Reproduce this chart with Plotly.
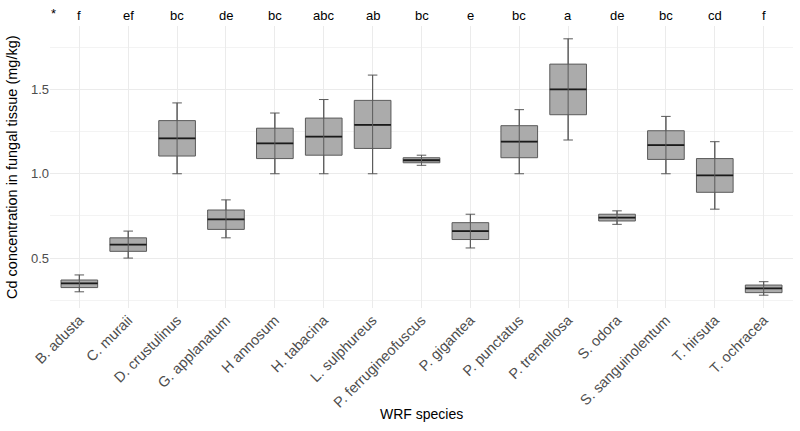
import plotly.graph_objects as go

species = ["B. adusta", "C. muraii", "D. crustulinus", "G. applanatum", "H annosum",
           "H. tabacina", "L. sulphureus", "P. ferrugineofuscus", "P. gigantea",
           "P. punctatus", "P. tremellosa", "S. odora", "S. sanguinolentum",
           "T. hirsuta", "T. ochracea"]
lower = [0.30, 0.50, 1.00, 0.62, 1.00, 1.00, 1.00, 1.05, 0.56, 1.00, 1.20, 0.70, 1.00, 0.79, 0.28]
q1 =    [0.325, 0.54, 1.105, 0.67, 1.09, 1.11, 1.15, 1.065, 0.61, 1.095, 1.35, 0.72, 1.085, 0.89, 0.295]
median = [0.35, 0.58, 1.21, 0.73, 1.18, 1.22, 1.29, 1.08, 0.66, 1.19, 1.50, 0.74, 1.17, 0.99, 0.32]
q3 =    [0.37, 0.62, 1.315, 0.785, 1.27, 1.33, 1.435, 1.095, 0.71, 1.285, 1.65, 0.76, 1.255, 1.09, 0.34]
upper = [0.40, 0.66, 1.42, 0.845, 1.36, 1.44, 1.585, 1.11, 0.76, 1.38, 1.80, 0.78, 1.34, 1.19, 0.36]
letters = ["f", "ef", "bc", "de", "bc", "abc", "ab", "bc", "e", "bc", "a", "de", "bc", "cd", "f"]

fig = go.Figure()
fig.add_trace(go.Box(
    x=species, q1=q1, median=median, q3=q3, lowerfence=lower, upperfence=upper,
    fillcolor="#ababab", line=dict(color="#5a5a5a", width=1),
    width=0.75, whiskerwidth=0.26, boxpoints=False, showlegend=False, hoverinfo="skip"))
# median line emphasised
fig.add_trace(go.Box(
    x=species, q1=median, median=median, q3=median, lowerfence=median, upperfence=median,
    fillcolor="rgba(0,0,0,0)", line=dict(color="#1a1a1a", width=1.8),
    width=0.75, whiskerwidth=0, boxpoints=False, showlegend=False, hoverinfo="skip"))
# whisker line through the box
wx, wy = [], []
for s, lo, hi in zip(species, lower, upper):
    wx += [s, s, None]
    wy += [lo, hi, None]
fig.add_trace(go.Scatter(x=wx, y=wy, mode="lines", line=dict(color="#5a5a5a", width=1),
                         showlegend=False, hoverinfo="skip"))

for s, l in zip(species, letters):
    fig.add_annotation(x=s, y=1, xref="x", yref="paper", text=l, showarrow=False,
                       yanchor="middle", yshift=11, font=dict(size=13, color="black"))
fig.add_annotation(x=0, y=1, xref="paper", yref="paper", text="*", showarrow=False,
                   yanchor="middle", yshift=13, xshift=-1, font=dict(size=13, color="black"))

# axis titles
fig.add_annotation(x=0.5, y=0, xref="paper", yref="paper", text="WRF species", showarrow=False,
                   yanchor="middle", yshift=-106, font=dict(size=14, color="black"))
fig.add_annotation(x=0, y=0.5, xref="paper", yref="paper",
                   text="Cd concentration in fungal tissue (mg/kg)", showarrow=False,
                   textangle=-90, xanchor="center", xshift=-38, font=dict(size=14.5, color="black"))

fig.update_layout(
    width=800, height=431,
    margin=dict(l=50, r=7, t=26, b=123),
    paper_bgcolor="white", plot_bgcolor="white",
    boxmode="overlay",
    font=dict(family="Liberation Sans, Arial, sans-serif", size=13, color="#4d4d4d"),
    xaxis=dict(type="category", range=[-0.6, 14.6], tickangle=-45, showgrid=True,
               gridcolor="#ebebeb", gridwidth=1, zeroline=False, showline=False, ticks="",
               tickfont=dict(size=14.5, color="#4d4d4d")),
    yaxis=dict(range=[0.204, 1.876], tickvals=[0.5, 1.0, 1.5], ticktext=["0.5", "1.0", "1.5"],
               showgrid=True, gridcolor="#ebebeb", gridwidth=1, zeroline=False, showline=False,
               ticks="", tickfont=dict(size=13, color="#4d4d4d"),
               minor=dict(tickvals=[0.25, 0.75, 1.25, 1.75], showgrid=True, gridcolor="#f3f3f3")),
)
fig.write_html("out.html")
